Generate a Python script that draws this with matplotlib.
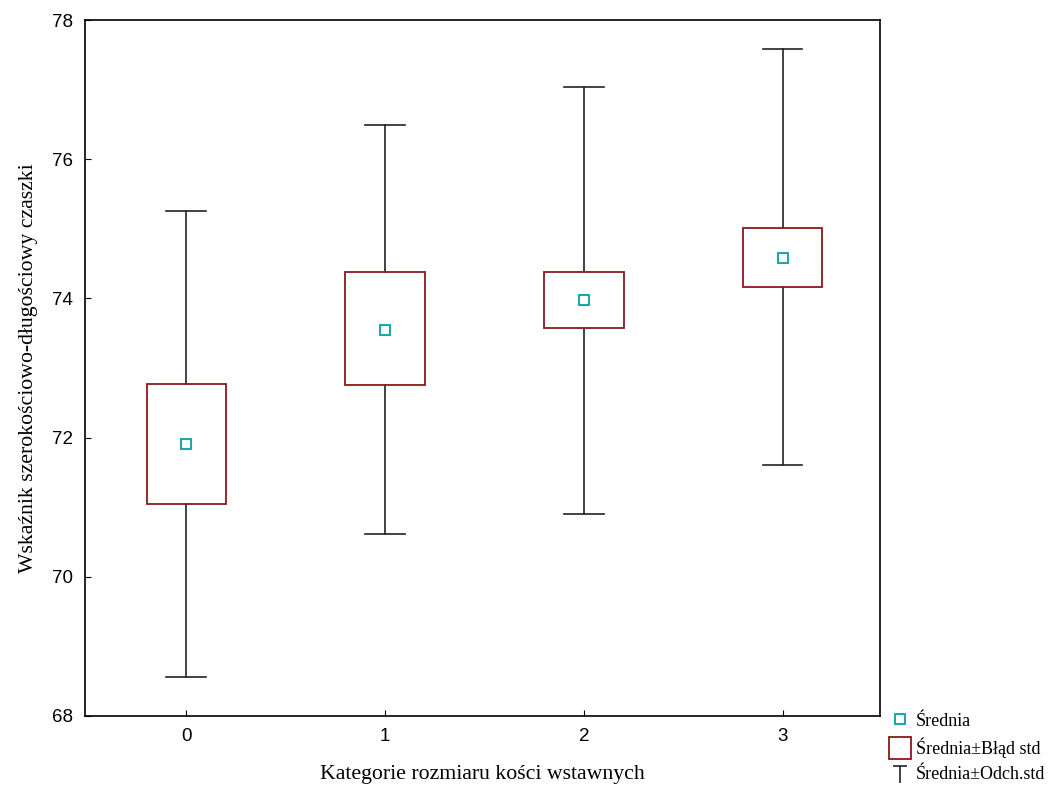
import matplotlib.pyplot as plt
from matplotlib.lines import Line2D
from matplotlib.patches import Rectangle
from matplotlib.path import Path

categories = [0, 1, 2, 3]
means = [71.91, 73.55, 73.98, 74.58]
se_low = [71.05, 72.76, 73.57, 74.16]
se_high = [72.77, 74.38, 74.38, 75.01]
sd_low = [68.56, 70.61, 70.90, 71.61]
sd_high = [75.26, 76.49, 77.04, 77.58]

box_col = '#8b1a1a'
mean_col = '#20a8a8'
wh_col = '#222222'

fig = plt.figure(figsize=(10.52, 7.85), dpi=100)
ax = fig.add_axes([0.0808, 0.0879, 0.7557, 0.8866])

for x, m, bl, bh, wl, wh in zip(categories, means, se_low, se_high, sd_low, sd_high):
    # whiskers (mean +- sd)
    ax.plot([x, x], [bh, wh], color=wh_col, lw=1.2, zorder=2)
    ax.plot([x, x], [wl, bl], color=wh_col, lw=1.2, zorder=2)
    ax.plot([x - 0.1, x + 0.1], [wh, wh], color=wh_col, lw=1.2, zorder=2)
    ax.plot([x - 0.1, x + 0.1], [wl, wl], color=wh_col, lw=1.2, zorder=2)
    # box (mean +- se)
    ax.add_patch(Rectangle((x - 0.2, bl), 0.4, bh - bl, fill=False,
                           edgecolor=box_col, lw=1.3, zorder=3))
    ax.plot(x, m, marker='s', ms=7, mfc='none', mec=mean_col, mew=1.5, zorder=4)

ax.set_xlim(-0.51, 3.49)
ax.set_ylim(68, 78)
ax.set_xticks(categories)
ax.set_yticks([68, 70, 72, 74, 76, 78])
ax.tick_params(direction='in', length=4, labelsize=13.5, pad=9)
for lab in ax.get_xticklabels() + ax.get_yticklabels():
    lab.set_fontfamily('Liberation Sans')
for s in ax.spines.values():
    s.set_linewidth(1.2)

ax.set_xlabel('Kategorie rozmiaru kości wstawnych', family='Liberation Serif',
              fontsize=15.7, labelpad=14)
ax.set_ylabel('Wskaźnik szerokościowo-długościowy czaszki', family='Liberation Serif',
              fontsize=15.7, labelpad=10)

tee = Path([(-1, 1), (1, 1), (0, 1), (0, -1.4)],
           [Path.MOVETO, Path.LINETO, Path.MOVETO, Path.LINETO])
handles = [
    Line2D([], [], ls='none', marker='s', ms=7, mfc='none', mec=mean_col, mew=1.5),
    Line2D([], [], ls='none', marker='s', ms=16, mfc='none', mec=box_col, mew=1.3),
    Line2D([], [], ls='none', marker=tee, ms=14, color=wh_col, mew=1.2),
]
labels = ['Średnia', 'Średnia±Błąd std', 'Średnia±Odch.std']
fig.legend(handles, labels, loc='lower left', bbox_to_anchor=(0.833, -0.014),
           frameon=False, prop={'family': 'Liberation Serif', 'size': 13},
           handlelength=1.2, handletextpad=0.3, labelspacing=0.45, borderpad=0.2)

fig.savefig('out.png', dpi=100)
